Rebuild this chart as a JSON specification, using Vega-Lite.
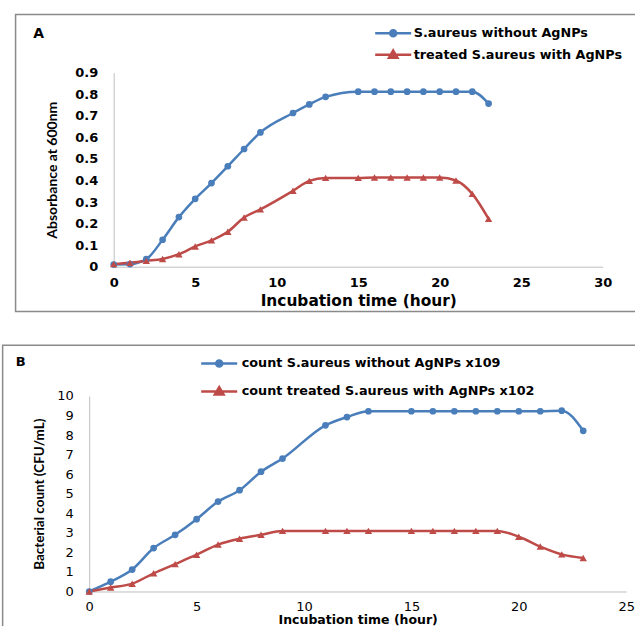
{
  "$schema": "https://vega.github.io/schema/vega-lite/v6.json",
  "padding": {"left": 1.2, "top": 13.7, "right": 0, "bottom": 0},
  "autosize": {"type": "pad"},
  "datasets": {
    "a": [
      {"time": 0, "series": "S.aureus without AgNPs", "value": 0.01},
      {"time": 1, "series": "S.aureus without AgNPs", "value": 0.012},
      {"time": 2, "series": "S.aureus without AgNPs", "value": 0.035},
      {"time": 3, "series": "S.aureus without AgNPs", "value": 0.125},
      {"time": 4, "series": "S.aureus without AgNPs", "value": 0.23},
      {"time": 5, "series": "S.aureus without AgNPs", "value": 0.315},
      {"time": 6, "series": "S.aureus without AgNPs", "value": 0.388},
      {"time": 7, "series": "S.aureus without AgNPs", "value": 0.466},
      {"time": 8, "series": "S.aureus without AgNPs", "value": 0.546},
      {"time": 9, "series": "S.aureus without AgNPs", "value": 0.623},
      {"time": 11, "series": "S.aureus without AgNPs", "value": 0.713},
      {"time": 12, "series": "S.aureus without AgNPs", "value": 0.753},
      {"time": 13, "series": "S.aureus without AgNPs", "value": 0.788},
      {"time": 15, "series": "S.aureus without AgNPs", "value": 0.812},
      {"time": 16, "series": "S.aureus without AgNPs", "value": 0.812},
      {"time": 17, "series": "S.aureus without AgNPs", "value": 0.812},
      {"time": 18, "series": "S.aureus without AgNPs", "value": 0.812},
      {"time": 19, "series": "S.aureus without AgNPs", "value": 0.812},
      {"time": 20, "series": "S.aureus without AgNPs", "value": 0.812},
      {"time": 21, "series": "S.aureus without AgNPs", "value": 0.812},
      {"time": 22, "series": "S.aureus without AgNPs", "value": 0.812},
      {"time": 23, "series": "S.aureus without AgNPs", "value": 0.757},
      {"time": 0, "series": "treated S.aureus  with AgNPs", "value": 0.012},
      {"time": 1, "series": "treated S.aureus  with AgNPs", "value": 0.018},
      {"time": 2, "series": "treated S.aureus  with AgNPs", "value": 0.027},
      {"time": 3, "series": "treated S.aureus  with AgNPs", "value": 0.036},
      {"time": 4, "series": "treated S.aureus  with AgNPs", "value": 0.058},
      {"time": 5, "series": "treated S.aureus  with AgNPs", "value": 0.094},
      {"time": 6, "series": "treated S.aureus  with AgNPs", "value": 0.122},
      {"time": 7, "series": "treated S.aureus  with AgNPs", "value": 0.162},
      {"time": 8, "series": "treated S.aureus  with AgNPs", "value": 0.228},
      {"time": 9, "series": "treated S.aureus  with AgNPs", "value": 0.266},
      {"time": 11, "series": "treated S.aureus  with AgNPs", "value": 0.352},
      {"time": 12, "series": "treated S.aureus  with AgNPs", "value": 0.398},
      {"time": 13, "series": "treated S.aureus  with AgNPs", "value": 0.412},
      {"time": 15, "series": "treated S.aureus  with AgNPs", "value": 0.412},
      {"time": 16, "series": "treated S.aureus  with AgNPs", "value": 0.414},
      {"time": 17, "series": "treated S.aureus  with AgNPs", "value": 0.414},
      {"time": 18, "series": "treated S.aureus  with AgNPs", "value": 0.414},
      {"time": 19, "series": "treated S.aureus  with AgNPs", "value": 0.414},
      {"time": 20, "series": "treated S.aureus  with AgNPs", "value": 0.414},
      {"time": 21, "series": "treated S.aureus  with AgNPs", "value": 0.4},
      {"time": 22, "series": "treated S.aureus  with AgNPs", "value": 0.338},
      {"time": 23, "series": "treated S.aureus  with AgNPs", "value": 0.222}
    ],
    "b": [
      {"time": 0, "series": "count S.aureus without AgNPs x109", "value": 0},
      {"time": 1, "series": "count S.aureus without AgNPs x109", "value": 0.5},
      {"time": 2, "series": "count S.aureus without AgNPs x109", "value": 1.12},
      {"time": 3, "series": "count S.aureus without AgNPs x109", "value": 2.22},
      {"time": 4, "series": "count S.aureus without AgNPs x109", "value": 2.9},
      {"time": 5, "series": "count S.aureus without AgNPs x109", "value": 3.7},
      {"time": 6, "series": "count S.aureus without AgNPs x109", "value": 4.6},
      {"time": 7, "series": "count S.aureus without AgNPs x109", "value": 5.18},
      {"time": 8, "series": "count S.aureus without AgNPs x109", "value": 6.13},
      {"time": 9, "series": "count S.aureus without AgNPs x109", "value": 6.8},
      {"time": 11, "series": "count S.aureus without AgNPs x109", "value": 8.5},
      {"time": 12, "series": "count S.aureus without AgNPs x109", "value": 8.92},
      {"time": 13, "series": "count S.aureus without AgNPs x109", "value": 9.22},
      {"time": 15, "series": "count S.aureus without AgNPs x109", "value": 9.22},
      {"time": 16, "series": "count S.aureus without AgNPs x109", "value": 9.22},
      {"time": 17, "series": "count S.aureus without AgNPs x109", "value": 9.22},
      {"time": 18, "series": "count S.aureus without AgNPs x109", "value": 9.22},
      {"time": 19, "series": "count S.aureus without AgNPs x109", "value": 9.22},
      {"time": 20, "series": "count S.aureus without AgNPs x109", "value": 9.22},
      {"time": 21, "series": "count S.aureus without AgNPs x109", "value": 9.22},
      {"time": 22, "series": "count S.aureus without AgNPs x109", "value": 9.25},
      {"time": 23, "series": "count S.aureus without AgNPs x109", "value": 8.22},
      {"time": 0, "series": "count treated S.aureus  with AgNPs x102", "value": 0},
      {"time": 1, "series": "count treated S.aureus  with AgNPs x102", "value": 0.2},
      {"time": 2, "series": "count treated S.aureus  with AgNPs x102", "value": 0.4},
      {"time": 3, "series": "count treated S.aureus  with AgNPs x102", "value": 0.93},
      {"time": 4, "series": "count treated S.aureus  with AgNPs x102", "value": 1.4},
      {"time": 5, "series": "count treated S.aureus  with AgNPs x102", "value": 1.88},
      {"time": 6, "series": "count treated S.aureus  with AgNPs x102", "value": 2.4},
      {"time": 7, "series": "count treated S.aureus  with AgNPs x102", "value": 2.7},
      {"time": 8, "series": "count treated S.aureus  with AgNPs x102", "value": 2.9},
      {"time": 9, "series": "count treated S.aureus  with AgNPs x102", "value": 3.1},
      {"time": 11, "series": "count treated S.aureus  with AgNPs x102", "value": 3.1},
      {"time": 12, "series": "count treated S.aureus  with AgNPs x102", "value": 3.1},
      {"time": 13, "series": "count treated S.aureus  with AgNPs x102", "value": 3.1},
      {"time": 15, "series": "count treated S.aureus  with AgNPs x102", "value": 3.1},
      {"time": 16, "series": "count treated S.aureus  with AgNPs x102", "value": 3.1},
      {"time": 17, "series": "count treated S.aureus  with AgNPs x102", "value": 3.1},
      {"time": 18, "series": "count treated S.aureus  with AgNPs x102", "value": 3.1},
      {"time": 19, "series": "count treated S.aureus  with AgNPs x102", "value": 3.1},
      {"time": 20, "series": "count treated S.aureus  with AgNPs x102", "value": 2.8},
      {"time": 21, "series": "count treated S.aureus  with AgNPs x102", "value": 2.3},
      {"time": 22, "series": "count treated S.aureus  with AgNPs x102", "value": 1.9},
      {"time": 23, "series": "count treated S.aureus  with AgNPs x102", "value": 1.71}
    ]
  },
  "columns": 1,
  "bounds": "full",
  "spacing": 31.3,
  "resolve": {
    "scale": {"color": "independent", "stroke": "independent", "shape": "independent"},
    "legend": {"color": "independent", "stroke": "independent", "shape": "independent"}
  },
  "concat": [
    {
      "width": 513.5,
      "height": 194,
      "data": {"name": "a"},
      "layer": [
        {
          "transform": [{"filter": {"field": "series", "equal": "S.aureus without AgNPs"}}],
          "mark": {"type": "line", "interpolate": "monotone", "strokeWidth": 2.5, "color": "#4a7ebb"},
          "encoding": {
            "x": {
              "field": "time", "type": "quantitative",
              "scale": {"domain": [0, 30], "range": [24.5, 513.5], "nice": false, "zero": false},
              "axis": {
                "values": [0, 5, 10, 15, 20, 25, 30],
                "tickCount": 40,
                "format": "d",
                "labelOverlap": false,
                "title": "Incubation time (hour)",
                "labelFont": "DejaVu Sans", "labelFontWeight": "bold", "labelFontSize": 13,
                "labelPadding": 10,
                "titleFont": "DejaVu Sans", "titleFontWeight": "bold", "titleFontSize": 15.4,
                "titlePadding": 4
              }
            },
            "y": {
              "field": "value", "type": "quantitative",
              "scale": {"domain": [0, 0.9], "nice": false},
              "axis": {
                "values": [0, 0.1, 0.2, 0.3, 0.4, 0.5, 0.6, 0.7, 0.8, 0.9],
                "tickCount": 40,
                "labelOverlap": false,
                "format": ".1~f",
                "offset": -24.5,
                "title": "Absorbance at 600nm",
                "labelFont": "DejaVu Sans", "labelFontWeight": "bold", "labelFontSize": 13,
                "labelPadding": 16,
                "titleFont": "Lato", "titleFontWeight": "bold", "titleFontSize": 14,
                "titlePadding": 15
              }
            }
          }
        },
        {
          "transform": [{"filter": {"field": "series", "equal": "treated S.aureus  with AgNPs"}}],
          "mark": {"type": "line", "interpolate": "monotone", "strokeWidth": 2.5, "color": "#be4b48"},
          "encoding": {
            "x": {"field": "time", "type": "quantitative"},
            "y": {"field": "value", "type": "quantitative"}
          }
        },
        {
          "data": {"values": [{}]},
          "mark": {"type": "rect", "fill": "transparent", "stroke": "#8a8a8a", "strokeWidth": 1.5},
          "encoding": {
            "x": {"datum": -6.02, "type": "quantitative"},
            "x2": {"datum": 33},
            "y": {"datum": 1.17, "type": "quantitative"},
            "y2": {"datum": -0.208}
          }
        },
        {
          "data": {"values": [{}]},
          "mark": {"type": "text", "text": "A", "font": "DejaVu Sans", "fontWeight": "bold", "fontSize": 14, "align": "left", "baseline": "alphabetic", "color": "black"},
          "encoding": {
            "x": {"datum": -4.94, "type": "quantitative"},
            "y": {"datum": 1.062, "type": "quantitative"}
          }
        },
        {
          "transform": [{"filter": {"field": "series", "equal": "S.aureus without AgNPs"}}],
          "mark": {"type": "point", "filled": true, "shape": "circle", "size": 45, "color": "#4a7ebb", "opacity": 1},
          "encoding": {
            "x": {"field": "time", "type": "quantitative"},
            "y": {"field": "value", "type": "quantitative"}
          }
        },
        {
          "transform": [{"filter": {"field": "series", "equal": "treated S.aureus  with AgNPs"}}],
          "mark": {"type": "point", "filled": true, "shape": "triangle-up", "size": 55, "color": "#be4b48", "opacity": 1},
          "encoding": {
            "x": {"field": "time", "type": "quantitative"},
            "y": {"field": "value", "type": "quantitative"}
          }
        },
        {
          "mark": {"type": "point", "filled": true, "opacity": 0, "strokeWidth": 2.5},
          "encoding": {
            "x": {"field": "time", "type": "quantitative"},
            "y": {"field": "value", "type": "quantitative"},
            "color": {
              "field": "series", "type": "nominal",
              "scale": {"domain": ["S.aureus without AgNPs", "treated S.aureus  with AgNPs"], "range": ["#4a7ebb", "#be4b48"]},
              "legend": {"orient": "none", "legendX": 292.5, "legendY": -51, "direction": "vertical", "title": null, "symbolSize": 400, "symbolStrokeWidth": 2.5, "rowPadding": 1.6, "labelFont": "DejaVu Sans", "labelFontWeight": "bold", "labelFontSize": 12.8, "labelColor": "black", "labelLimit": 500, "labelOffset": 9, "padding": 0, "symbolOpacity": 1}
            },
            "stroke": {
              "field": "series", "type": "nominal",
              "scale": {"domain": ["S.aureus without AgNPs", "treated S.aureus  with AgNPs"], "range": ["#4a7ebb", "#be4b48"]},
              "legend": {"orient": "none", "legendX": 292.5, "legendY": -51, "direction": "vertical", "title": null, "symbolSize": 400, "symbolStrokeWidth": 2.5, "rowPadding": 1.6, "labelFont": "DejaVu Sans", "labelFontWeight": "bold", "labelFontSize": 12.8, "labelColor": "black", "labelLimit": 500, "labelOffset": 9, "padding": 0, "symbolOpacity": 1}
            },
            "shape": {
              "field": "series", "type": "nominal",
              "scale": {"domain": ["S.aureus without AgNPs", "treated S.aureus  with AgNPs"], "range": ["M-1.8,0H1.8M0.3,0A0.3,0.3,0,1,1,-0.3,0A0.3,0.3,0,1,1,0.3,0Z", "M-1.8,0H1.8M0,-0.42L0.42,0.3L-0.42,0.3Z"]},
              "legend": {"orient": "none", "legendX": 292.5, "legendY": -51, "direction": "vertical", "title": null, "symbolSize": 400, "symbolStrokeWidth": 2.5, "rowPadding": 1.6, "labelFont": "DejaVu Sans", "labelFontWeight": "bold", "labelFontSize": 12.8, "labelColor": "black", "labelLimit": 500, "labelOffset": 9, "padding": 0, "symbolOpacity": 1}
            }
          }
        }
      ]
    },
    {
      "width": 537,
      "height": 195.5,
      "data": {"name": "b"},
      "layer": [
        {
          "transform": [{"filter": {"field": "series", "equal": "count S.aureus without AgNPs x109"}}],
          "mark": {"type": "line", "interpolate": "monotone", "strokeWidth": 2.5, "color": "#4a7ebb"},
          "encoding": {
            "x": {
              "field": "time", "type": "quantitative",
              "scale": {"domain": [0, 25], "nice": false, "zero": false},
              "axis": {
                "values": [0, 5, 10, 15, 20, 25],
                "tickCount": 40,
                "format": "d",
                "labelOverlap": false,
                "title": "Incubation time (hour)",
                "labelFont": "DejaVu Sans", "labelFontWeight": "normal", "labelFontSize": 13,
                "labelPadding": 9,
                "titleFont": "DejaVu Sans", "titleFontWeight": "bold", "titleFontSize": 12.5,
                "titlePadding": 0
              }
            },
            "y": {
              "field": "value", "type": "quantitative",
              "scale": {"domain": [0, 10], "nice": false},
              "axis": {
                "values": [0, 1, 2, 3, 4, 5, 6, 7, 8, 9, 10],
                "tickCount": 40,
                "format": "d",
                "labelOverlap": false,
                "title": "Bacterial count (CFU/mL)",
                "labelFont": "DejaVu Sans", "labelFontWeight": "normal", "labelFontSize": 13,
                "labelPadding": 16,
                "titleFont": "Lato", "titleFontWeight": "bold", "titleFontSize": 13.5,
                "titlePadding": 10
              }
            }
          }
        },
        {
          "transform": [{"filter": {"field": "series", "equal": "count treated S.aureus  with AgNPs x102"}}],
          "mark": {"type": "line", "interpolate": "monotone", "strokeWidth": 2.5, "color": "#be4b48"},
          "encoding": {
            "x": {"field": "time", "type": "quantitative"},
            "y": {"field": "value", "type": "quantitative"}
          }
        },
        {
          "data": {"values": [{}]},
          "mark": {"type": "rect", "fill": "transparent", "stroke": "#8a8a8a", "strokeWidth": 1.5},
          "encoding": {
            "x": {"datum": -4.03, "type": "quantitative"},
            "x2": {"datum": 26.6},
            "y": {"datum": 12.59, "type": "quantitative"},
            "y2": {"datum": -2.5}
          }
        },
        {
          "data": {"values": [{}]},
          "mark": {"type": "text", "text": "B", "font": "DejaVu Sans", "fontWeight": "bold", "fontSize": 13, "align": "left", "baseline": "alphabetic", "color": "black"},
          "encoding": {
            "x": {"datum": -3.42, "type": "quantitative"},
            "y": {"datum": 11.51, "type": "quantitative"}
          }
        },
        {
          "transform": [{"filter": {"field": "series", "equal": "count S.aureus without AgNPs x109"}}],
          "mark": {"type": "point", "filled": true, "shape": "circle", "size": 45, "color": "#4a7ebb", "opacity": 1},
          "encoding": {
            "x": {"field": "time", "type": "quantitative"},
            "y": {"field": "value", "type": "quantitative"}
          }
        },
        {
          "transform": [{"filter": {"field": "series", "equal": "count treated S.aureus  with AgNPs x102"}}],
          "mark": {"type": "point", "filled": true, "shape": "triangle-up", "size": 55, "color": "#be4b48", "opacity": 1},
          "encoding": {
            "x": {"field": "time", "type": "quantitative"},
            "y": {"field": "value", "type": "quantitative"}
          }
        },
        {
          "mark": {"type": "point", "filled": true, "opacity": 0, "strokeWidth": 2.5},
          "encoding": {
            "x": {"field": "time", "type": "quantitative"},
            "y": {"field": "value", "type": "quantitative"},
            "color": {
              "field": "series", "type": "nominal",
              "scale": {"domain": ["count S.aureus without AgNPs x109", "count treated S.aureus  with AgNPs x102"], "range": ["#4a7ebb", "#be4b48"]},
              "legend": {"orient": "none", "legendX": 110.5, "legendY": -52, "direction": "vertical", "title": null, "symbolSize": 1296, "symbolStrokeWidth": 2.5, "rowPadding": -8, "labelFont": "DejaVu Sans", "labelFontWeight": "bold", "labelFontSize": 12.8, "labelColor": "black", "labelLimit": 500, "labelOffset": 3, "padding": 0, "symbolOpacity": 1}
            },
            "stroke": {
              "field": "series", "type": "nominal",
              "scale": {"domain": ["count S.aureus without AgNPs x109", "count treated S.aureus  with AgNPs x102"], "range": ["#4a7ebb", "#be4b48"]},
              "legend": {"orient": "none", "legendX": 110.5, "legendY": -52, "direction": "vertical", "title": null, "symbolSize": 1296, "symbolStrokeWidth": 2.5, "rowPadding": -8, "labelFont": "DejaVu Sans", "labelFontWeight": "bold", "labelFontSize": 12.8, "labelColor": "black", "labelLimit": 500, "labelOffset": 3, "padding": 0, "symbolOpacity": 1}
            },
            "shape": {
              "field": "series", "type": "nominal",
              "scale": {"domain": ["count S.aureus without AgNPs x109", "count treated S.aureus  with AgNPs x102"], "range": ["M-1,0H1M0.17,0A0.17,0.17,0,1,1,-0.17,0A0.17,0.17,0,1,1,0.17,0Z", "M-1,0H1M0,-0.24L0.24,0.17L-0.24,0.17Z"]},
              "legend": {"orient": "none", "legendX": 110.5, "legendY": -52, "direction": "vertical", "title": null, "symbolSize": 1296, "symbolStrokeWidth": 2.5, "rowPadding": -8, "labelFont": "DejaVu Sans", "labelFontWeight": "bold", "labelFontSize": 12.8, "labelColor": "black", "labelLimit": 500, "labelOffset": 3, "padding": 0, "symbolOpacity": 1}
            }
          }
        }
      ]
    }
  ],
  "config": {
    "view": {"stroke": null},
    "font": "DejaVu Sans",
    "axis": {
      "domainColor": "#bfbfbf",
      "domainWidth": 1,
      "ticks": false,
      "tickSize": 0,
      "grid": false,
      "labelColor": "black",
      "titleColor": "black",
      "labelFlush": false,
      "labelOverlap": false
    }
  }
}
